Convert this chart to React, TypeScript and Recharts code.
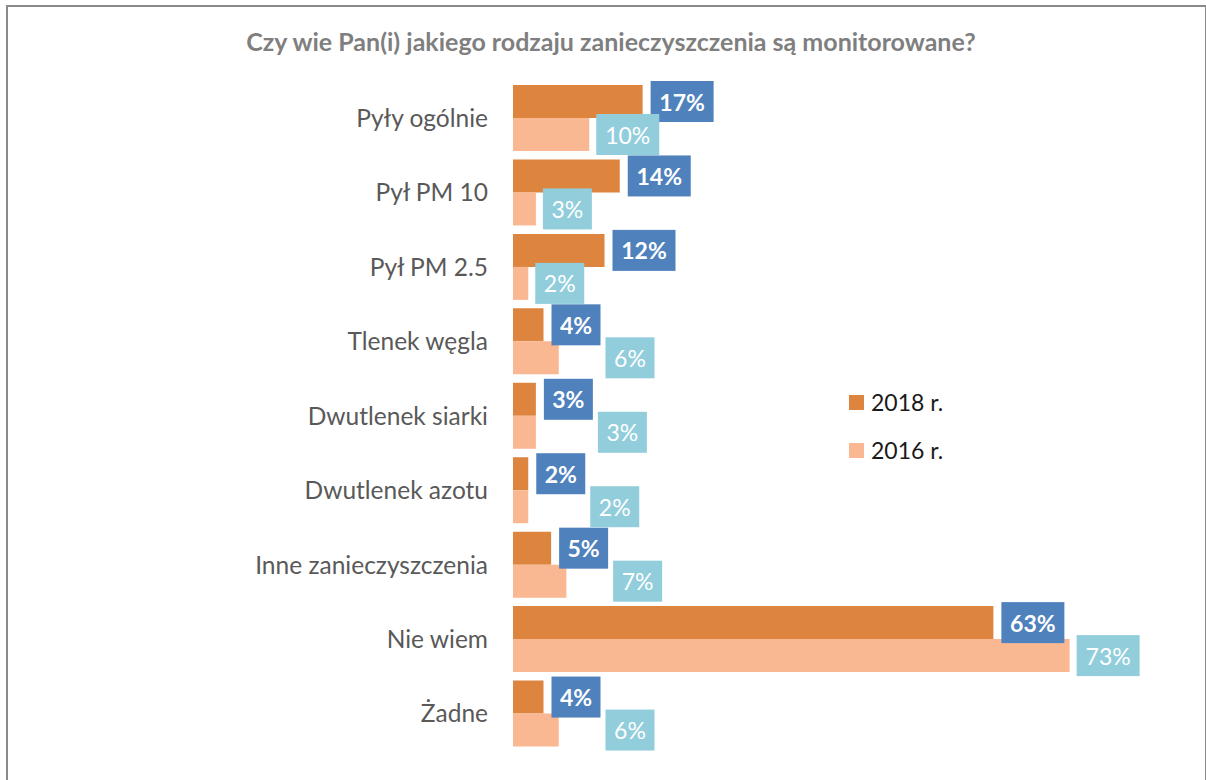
import React from "react";
import { BarChart, Bar, XAxis, YAxis, LabelList } from "recharts";

const categories = [
  "Pyły ogólnie",
  "Pył PM 10",
  "Pył PM 2.5",
  "Tlenek węgla",
  "Dwutlenek siarki",
  "Dwutlenek azotu",
  "Inne zanieczyszczenia",
  "Nie wiem",
  "Żadne",
];
const values2018 = [17, 14, 12, 4, 3, 2, 5, 63, 4];
const values2016 = [10, 3, 2, 6, 3, 2, 7, 73, 6];
const seriesNames = ["2018 r.", "2016 r."];

const data = categories.map((name, i) => ({
  name,
  y2018: values2018[i],
  y2016: values2016[i],
}));

const ORANGE = "#dd843f";
const PEACH = "#f9b792";
const BLUE = "#4f81bd";
const LIGHTBLUE = "#92cddc";
const FONT = "Lato, 'Open Sans', sans-serif";

const BOX_H = 41;
const boxWidth = (v: number) => 49 + 14 * (String(v).length - 1);

// 2018 label box span per category index (filled while drawing 2018 labels)
const blueBox: Record<number, [number, number]> = {};

function Label2018(props: any) {
  const { x, y, width, height, value, index } = props;
  const w = boxWidth(value);
  const bx = Number(x) + Number(width) + 8;
  const cy = Number(y) + Number(height) / 2;
  blueBox[index] = [bx, bx + w];
  return (
    <g>
      <rect x={bx} y={cy - BOX_H / 2} width={w} height={BOX_H} fill={BLUE} />
      <text
        x={bx + w / 2}
        y={cy}
        textAnchor="middle"
        dominantBaseline="central"
        fill="#fff"
        fontFamily={FONT}
        fontSize={23}
        fontWeight={700}
      >
        {`${value}%`}
      </text>
    </g>
  );
}

function Label2016(props: any) {
  const { x, y, width, height, value, index } = props;
  const w = boxWidth(value);
  let bx = Number(x) + Number(width) + 7;
  // move right of the 2018 label when they overlap a lot (like Excel does)
  const other = blueBox[index];
  if (other) {
    const overlap = Math.min(bx + w, other[1]) - Math.max(bx, other[0]);
    if (overlap > 20) bx = other[1] + 5;
  }
  const cy = Number(y) + Number(height) / 2;
  return (
    <g>
      <rect x={bx} y={cy - BOX_H / 2} width={w} height={BOX_H} fill={LIGHTBLUE} />
      <text
        x={bx + w / 2}
        y={cy}
        textAnchor="middle"
        dominantBaseline="central"
        fill="#fff"
        fontFamily={FONT}
        fontSize={23}
      >
        {`${value}%`}
      </text>
    </g>
  );
}

function LegendBox() {
  const colors = [ORANGE, PEACH];
  return (
    <div
      style={{
        position: "absolute",
        left: 849,
        top: 378,
        fontFamily: FONT,
      }}
    >
      {seriesNames.map((label, i) => (
        <div key={label} style={{ display: "flex", alignItems: "center", height: 48 }}>
          <span
            style={{
              width: 15,
              height: 15,
              background: colors[i],
              display: "inline-block",
              marginRight: 7,
            }}
          />
          <span style={{ fontSize: 23, color: "#1a1a1a" }}>{label}</span>
        </div>
      ))}
    </div>
  );
}

export default function App() {
  return (
    <div
      style={{
        position: "absolute",
        left: 0,
        top: 0,
        width: 1206,
        height: 780,
        background: "#fff",
        overflow: "hidden",
      }}
    >
      <div
        style={{
          position: "absolute",
          left: 6,
          top: 5,
          width: 1197,
          height: 800,
          borderLeft: "2px solid #898989",
          borderTop: "2px solid #898989",
          borderRight: "2px solid #898989",
        }}
      />
      <div
        style={{
          position: "absolute",
          left: 0,
          width: 1222,
          top: 26,
          textAlign: "center",
          fontFamily: FONT,
          fontWeight: 700,
          fontSize: 25,
          color: "#7f7f7f",
        }}
      >
        Czy wie Pan(i) jakiego rodzaju zanieczyszczenia są monitorowane?
      </div>
      <BarChart
        width={1206}
        height={780}
        data={data}
        layout="vertical"
        margin={{ top: 81, right: 83, bottom: 29, left: 0 }}
        barGap={0}
        style={{ position: "absolute", left: 0, top: 0 }}
      >
        <XAxis type="number" domain={[0, 80]} hide />
        <YAxis
          type="category"
          dataKey="name"
          width={513}
          axisLine={false}
          tickLine={false}
          tickSize={0}
          tickMargin={25}
          interval={0}
          tick={{ fill: "#595959", fontSize: 24.5, fontFamily: FONT }}
        />
        <Bar
          dataKey="y2018"
          name={seriesNames[0]}
          fill={ORANGE}
          barSize={33}
          isAnimationActive={false}
        >
          <LabelList dataKey="y2018" content={Label2018} />
        </Bar>
        <Bar
          dataKey="y2016"
          name={seriesNames[1]}
          fill={PEACH}
          barSize={33}
          isAnimationActive={false}
        >
          <LabelList dataKey="y2016" content={Label2016} />
        </Bar>
      </BarChart>
      <LegendBox />
    </div>
  );
}
